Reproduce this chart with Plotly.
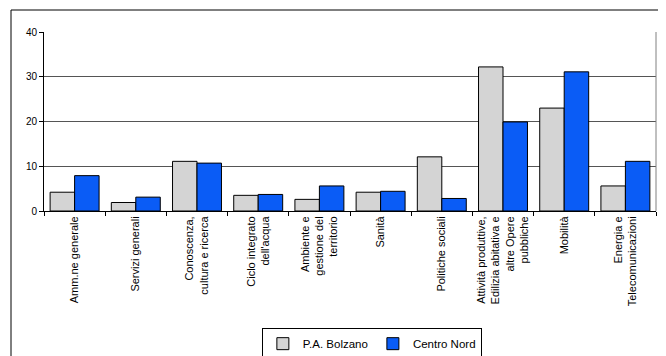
import plotly.graph_objects as go

categories = [
    "Amm.ne generale",
    "Servizi generali",
    "Conoscenza,<br>cultura e ricerca",
    "Ciclo integrato<br>dell'acqua",
    "Ambiente e<br>gestione del<br>territorio",
    "Sanità",
    "Politiche sociali",
    "Attività produttive,<br>Edilizia abitativa e<br>altre Opere<br>pubbliche",
    "Mobilità",
    "Energia e<br>Telecomunicazioni",
]
bolzano = [4.2, 1.9, 11.1, 3.5, 2.6, 4.2, 12.1, 32.2, 23.0, 5.6]
centro_nord = [7.9, 3.1, 10.7, 3.7, 5.6, 4.4, 2.8, 19.9, 31.1, 11.1]
y_ticks = [0, 10, 20, 30, 40]

FONT = "Liberation Sans, Arial, sans-serif"

# the page body has an 8px default margin, so the figure is 8px smaller
fig = go.Figure()
fig.add_trace(go.Bar(x=categories, y=bolzano, name="P.A. Bolzano",
                     marker=dict(color="#D4D4D4", line=dict(color="black", width=1))))
fig.add_trace(go.Bar(x=categories, y=centro_nord, name="Centro Nord",
                     marker=dict(color="#0A5CF6", line=dict(color="black", width=1))))

fig.update_layout(
    width=658, height=348,
    margin=dict(l=36, r=10, t=24, b=145, autoexpand=False),
    paper_bgcolor="white", plot_bgcolor="white",
    font=dict(family=FONT, color="black", size=11),
    barmode="group", bargap=0.2, bargroupgap=0,
    showlegend=True,
    legend=dict(orientation="h", xref="container", yref="container",
                x=0.553, xanchor="center", y=0.08, yanchor="top",
                bordercolor="black", borderwidth=1, font=dict(size=11.5, family=FONT),
                itemwidth=30, traceorder="normal"),
    xaxis=dict(type="category", tickangle=-90, tickfont=dict(size=11, family=FONT),
               automargin=False,
               showline=True, linecolor="black", linewidth=1,
               ticks="outside", tickson="boundaries", ticklen=4, tickcolor="black",
               showgrid=False),
    yaxis=dict(range=[0, 40], tickvals=y_ticks, tickfont=dict(size=10, family=FONT),
               automargin=False,
               showline=True, linecolor="black", linewidth=1,
               ticks="outside", ticklen=4, tickcolor="black",
               showgrid=True, gridcolor="#555555", gridwidth=1, zeroline=False),
    shapes=[
        dict(type="line", xref="paper", yref="paper", x0=1, x1=1, y0=0, y1=1,
             line=dict(color="#808080", width=1)),
        dict(type="line", xref="paper", yref="paper", x0=-0.0539, x1=1.02, y0=1.1229, y1=1.1229,
             line=dict(color="black", width=1)),
        dict(type="line", xref="paper", yref="paper", x0=-0.0539, x1=-0.0539, y0=1.1229, y1=-0.82,
             line=dict(color="black", width=1)),
    ],
)

fig.write_html("out.html")
